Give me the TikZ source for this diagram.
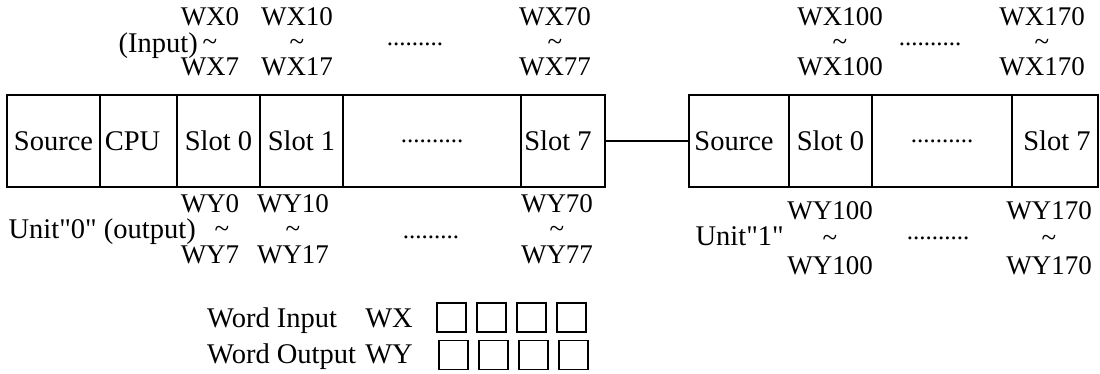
\documentclass[tikz,border=0pt]{standalone}
\usepackage{fontspec}
\setmainfont{Liberation Serif}
\begin{document}
\begin{tikzpicture}[x=1pt,y=-1pt,
  txt/.style={font=\fontsize{28.5}{33}\selectfont},
  wtxt/.style={font=\fontsize{27}{32}\selectfont},
  cell/.style={txt, draw, line width=1.2pt, minimum height=92pt,
    inner sep=0pt, outer sep=0pt, anchor=north west},
  lbl/.style={wtxt, inner sep=0pt, anchor=base},
  lblr/.style={txt, inner sep=0pt, anchor=base east},
  lbll/.style={txt, inner sep=0pt, anchor=base west},
  dots/.style={font=\fontsize{25}{30}\selectfont, inner sep=0pt, anchor=base},
  bit/.style={draw, line width=1.1pt, minimum width=29pt, minimum height=29pt,
    inner sep=0pt, outer sep=0pt}]
\useasboundingbox (0,0) rectangle (1100,374);

% unit 0
\node[cell, minimum width=93pt]  (srcA)  at (7,95)   {\raisebox{-3pt}{Source}};
\node[cell, minimum width=77pt]  (cpu)   at (100,95) {\hspace*{-12pt}\raisebox{-3pt}{CPU}};
\node[cell, minimum width=83pt]  (sA0)   at (177,95) {Slot 0};
\node[cell, minimum width=83pt]  (sA1)   at (260,95) {Slot 1};
\node[cell, minimum width=178pt] (dotsA) at (343,95) {\fontsize{25}{30}\selectfont ..........};
\node[cell, minimum width=84pt]  (sA7)   at (521,95) {\hspace*{-10pt}Slot 7};

% unit 1
\node[cell, minimum width=100pt] (srcB)  at (689,95)  {\hspace*{-10pt}Source};
\node[cell, minimum width=83pt]  (sB0)   at (789,95)  {Slot 0};
\node[cell, minimum width=140pt] (dotsB) at (872,95)  {\fontsize{25}{30}\selectfont ..........};
\node[cell, minimum width=86pt]  (sB7)   at (1012,95) {\hspace*{4pt}\raisebox{-3pt}{Slot 7}};

% expansion cable
\draw[line width=1.1pt] (sA7.east) -- (srcB.west);

% input word ranges, unit 0
\node[lbl] (ix0a) at (210,26) {WX0};
\node[lbl] (ix0t) at (210,51) {\textasciitilde};
\node[lbl] (ix0b) at (210,76) {WX7};
\node[lbl] (ix1a) at (297,26) {WX10};
\node[lbl] (ix1t) at (297,51) {\textasciitilde};
\node[lbl] (ix1b) at (297,76) {WX17};
\node[lbl] (ix7a) at (555,26) {WX70};
\node[lbl] (ix7t) at (555,51) {\textasciitilde};
\node[lbl] (ix7b) at (555,76) {WX77};
\node[lblr] (inp) at (198,53) {(Input)};
\node[dots] (idA) at (415,46) {.........};

% input word ranges, unit 1
\node[lbl] (jx0a) at (840,26) {WX100};
\node[lbl] (jx0t) at (840,51) {\textasciitilde};
\node[lbl] (jx0b) at (840,76) {WX100};
\node[lbl] (jx7a) at (1042,26) {WX170};
\node[lbl] (jx7t) at (1042,51) {\textasciitilde};
\node[lbl] (jx7b) at (1042,76) {WX170};
\node[dots] (idB) at (930,46) {..........};

% output word ranges, unit 0
\node[lbl] (oy0a) at (210,212) {WY0};
\node[lbl] (oy0t) at (222,237) {\textasciitilde};
\node[lbl] (oy0b) at (210,263) {WY7};
\node[lbl] (oy1a) at (293,212) {WY10};
\node[lbl] (oy1t) at (293,237) {\textasciitilde};
\node[lbl] (oy1b) at (293,263) {WY17};
\node[lbl] (oy7a) at (557,212) {WY70};
\node[lbl] (oy7t) at (557,237) {\textasciitilde};
\node[lbl] (oy7b) at (557,263) {WY77};
\node[lblr] (unA) at (196,238) {Unit\textquotedbl0\textquotedbl{} (output)};
\node[dots] (odA) at (431,238) {.........};

% output word ranges, unit 1
\node[lbl] (py0a) at (830,219) {WY100};
\node[lbl] (py0t) at (830,246) {\textasciitilde};
\node[lbl] (py0b) at (830,274) {WY100};
\node[lbl] (py7a) at (1049,219) {WY170};
\node[lbl] (py7t) at (1049,246) {\textasciitilde};
\node[lbl] (py7b) at (1049,274) {WY170};
\node[lblr] (unB) at (784,245) {Unit\textquotedbl1\textquotedbl};
\node[dots] (odB) at (938,240) {..........};

% legend
\node[lbll] (lgi)  at (207,327) {Word Input};
\node[lblr] (lgix) at (413,327) {WX};
\node[lbll] (lgo)  at (207,363) {Word Output};
\node[lblr] (lgoy) at (413,363) {WY};
\foreach \i in {0,1,2,3} {
  \node[bit] (bx\i) at (451.5+40*\i,317.5) {};
  \node[bit] (by\i) at (453.5+40*\i,355) {};
}
\end{tikzpicture}
\end{document}
